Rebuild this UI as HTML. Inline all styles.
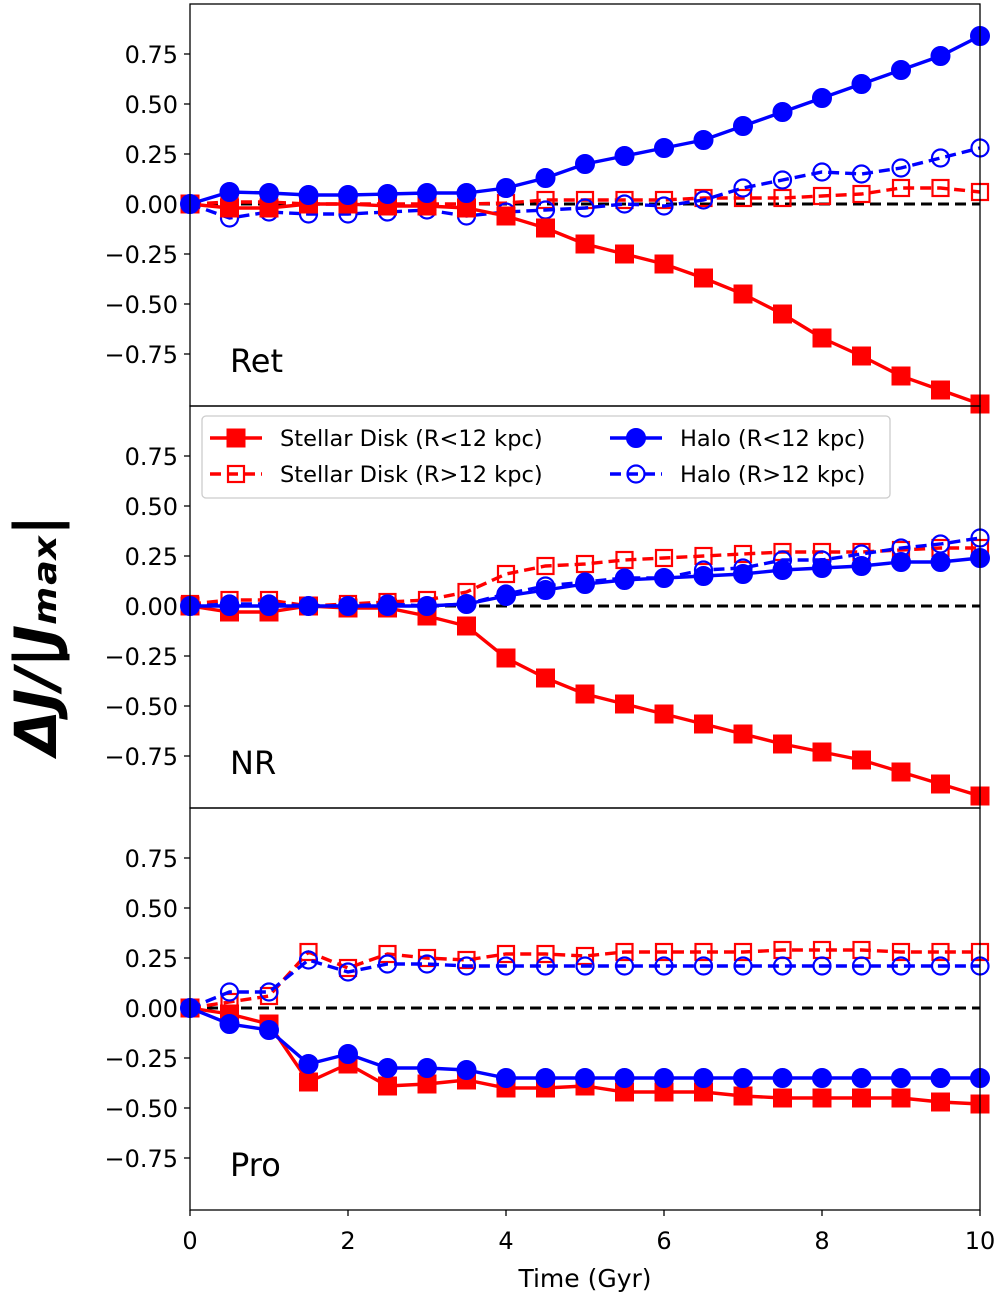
<!DOCTYPE html>
<html><head><meta charset="utf-8"><style>
body{margin:0;background:#fff}
svg text{font-family:"DejaVu Sans","Liberation Sans",sans-serif}
</style></head><body>
<svg id="chart" width="1000" height="1297" xmlns="http://www.w3.org/2000/svg"></svg>
<script>
const times=[0,0.5,1,1.5,2,2.5,3,3.5,4,4.5,5,5.5,6,6.5,7,7.5,8,8.5,9,9.5,10];
const panelNames=["Ret","NR","Pro"];
const retDiskIn=[0,-0.02,-0.02,0,0,-0.01,-0.01,-0.02,-0.06,-0.12,-0.2,-0.25,-0.3,-0.37,-0.45,-0.55,-0.67,-0.76,-0.86,-0.93,-1.0];
const retDiskOut=[0,0.01,0.01,0,0,0,0,0,0.005,0.02,0.02,0.02,0.02,0.03,0.03,0.03,0.04,0.05,0.08,0.08,0.06];
const retHaloIn=[0,0.06,0.055,0.045,0.045,0.05,0.055,0.055,0.08,0.13,0.2,0.24,0.28,0.32,0.39,0.46,0.53,0.6,0.67,0.74,0.84];
const retHaloOut=[0,-0.07,-0.04,-0.05,-0.05,-0.04,-0.03,-0.06,-0.04,-0.03,-0.02,0,-0.01,0.02,0.08,0.12,0.16,0.15,0.18,0.23,0.28];
const nrDiskIn=[0,-0.03,-0.03,0,-0.01,-0.01,-0.05,-0.1,-0.26,-0.36,-0.44,-0.49,-0.54,-0.59,-0.64,-0.69,-0.73,-0.77,-0.83,-0.89,-0.95];
const nrDiskOut=[0.01,0.03,0.03,0,0.01,0.02,0.03,0.07,0.16,0.2,0.21,0.23,0.24,0.25,0.26,0.27,0.27,0.27,0.28,0.29,0.29];
const nrHaloIn=[0,0,0,0,0,0,0,0.01,0.05,0.08,0.11,0.13,0.14,0.15,0.16,0.18,0.19,0.2,0.22,0.22,0.24];
const nrHaloOut=[0,0.01,0.01,0,0,0.01,0,0.01,0.06,0.1,0.12,0.14,0.14,0.18,0.19,0.23,0.23,0.26,0.29,0.31,0.34];
const proDiskIn=[0,-0.03,-0.08,-0.37,-0.28,-0.39,-0.38,-0.36,-0.4,-0.4,-0.39,-0.42,-0.42,-0.42,-0.44,-0.45,-0.45,-0.45,-0.45,-0.47,-0.48];
const proDiskOut=[0,0.03,0.06,0.28,0.2,0.27,0.25,0.24,0.27,0.27,0.26,0.28,0.28,0.28,0.28,0.29,0.29,0.29,0.28,0.28,0.28];
const proHaloIn=[0,-0.08,-0.11,-0.28,-0.23,-0.3,-0.3,-0.31,-0.35,-0.35,-0.35,-0.35,-0.35,-0.35,-0.35,-0.35,-0.35,-0.35,-0.35,-0.35,-0.35];
const proHaloOut=[0,0.08,0.08,0.24,0.18,0.22,0.22,0.21,0.21,0.21,0.21,0.21,0.21,0.21,0.21,0.21,0.21,0.21,0.21,0.21,0.21];
const yTicks=[0.75,0.5,0.25,0,-0.25,-0.5,-0.75];
const yTickLabels=["0.75","0.50","0.25","0.00","\u22120.25","\u22120.50","\u22120.75"];
const xTicks=[0,2,4,6,8,10];

const NS="http://www.w3.org/2000/svg";
const svg=document.getElementById('chart');
const L=190,R=980,tops=[4,406,808],PH=402;
const xs=t=>L+(R-L)*t/10;
const ys=(p,v)=>tops[p]+200-200*v;
function mk(tag,attrs,parent){const e=document.createElementNS(NS,tag);for(const k in attrs)e.setAttribute(k,attrs[k]);(parent||svg).appendChild(e);return e;}
const data=[[retDiskIn,retDiskOut,retHaloIn,retHaloOut],[nrDiskIn,nrDiskOut,nrHaloIn,nrHaloOut],[proDiskIn,proDiskOut,proHaloIn,proHaloOut]];
const styles=[{c:'red',dash:null,m:'sq',fill:true,n:'disk-inner'},{c:'red',dash:'11,6',m:'sq',fill:false,n:'disk-outer'},{c:'blue',dash:null,m:'ci',fill:true,n:'halo-inner'},{c:'blue',dash:'11,6',m:'ci',fill:false,n:'halo-outer'}];
function marker(g,st,x,y){
  let e;
  if(st.m==='sq'){const w=st.fill?18:16;e=mk('rect',{x:x-w/2,y:y-w/2,width:w,height:w,fill:st.fill?st.c:'none',stroke:st.c,'stroke-width':st.fill?1:2.2},g);}
  else{e=mk('circle',{cx:x,cy:y,r:st.fill?9.5:8.5,fill:st.fill?st.c:'none',stroke:st.c,'stroke-width':st.fill?1:2.2},g);}
  return e;
}
for(let p=0;p<3;p++){
  const pg=mk('g',{});
  
  
  yTicks.forEach((v,i)=>{
    const y=ys(p,v);
    mk('line',{x1:L-6,x2:L,y1:y,y2:y,stroke:'#000','stroke-width':1.3},pg);
    const t=mk('text',{x:L-12,y:y+9,'text-anchor':'end','font-size':24},pg);
    
    
    t.textContent=yTickLabels[i];
  });
  xTicks.forEach(v=>{mk('line',{x1:xs(v),x2:xs(v),y1:tops[p]+PH,y2:tops[p]+PH+(p===2?6:0),stroke:'#000','stroke-width':1.3},pg);});
  const z=mk('line',{x1:L,x2:R,y1:ys(p,0),y2:ys(p,0),stroke:'#000','stroke-width':3,'stroke-dasharray':'11,6'},pg);
  
  
  [1,3,0,2].forEach(si=>{
    const st=styles[si],vals=data[p][si];
    const g=mk('g',{},pg);
    
    
    const pts=vals.map((v,i)=>xs(times[i])+','+ys(p,v)).join(' ');
    const a={points:pts,fill:'none',stroke:st.c,'stroke-width':3.4};
    if(st.dash)a['stroke-dasharray']=st.dash;
    mk('polyline',a,g);
    vals.forEach((v,i)=>{const m=marker(g,st,xs(times[i]),ys(p,v));
      
      });
  });
  const lbl=mk('text',{x:230,y:tops[p]+368,'font-size':32,'font-family':'Liberation Sans'},pg);
  
  
  lbl.textContent=panelNames[p];
  const fr=mk('rect',{x:L,y:tops[p],width:R-L,height:PH,fill:'none',stroke:'#000','stroke-width':1.3},pg);
  
  
}
xTicks.forEach(v=>{
  const t=mk('text',{x:xs(v),y:1249,'text-anchor':'middle','font-size':24});
  
  
  t.textContent=String(v);
});
const xt=mk('text',{x:585,y:1287,'text-anchor':'middle','font-size':25});


xt.textContent='Time (Gyr)';
const yt=mk('text',{x:0,y:0,'text-anchor':'middle','font-size':58,'font-style':'italic','font-weight':'bold','font-family':'DejaVu Serif, serif',transform:'translate(56,635) rotate(-90)'});


yt.textContent='\u0394J/|J\u2098\u2090\u2093|';
const lg=mk('g',{});


mk('rect',{x:202,y:416,width:688,height:82,rx:4,fill:'#fff',stroke:'#ccc','stroke-width':1.3},lg);
const legItems=[[0,210,438,'Stellar Disk (R<12 kpc)'],[1,210,474,'Stellar Disk (R>12 kpc)'],[2,610,438,'Halo (R<12 kpc)'],[3,610,474,'Halo (R>12 kpc)']];
legItems.forEach(([si,x,y,txt])=>{
  const st=styles[si];
  const g=mk('g',{},lg);
  
  
  const a={x1:x,x2:x+52,y1:y,y2:y,stroke:st.c,'stroke-width':3.4};
  if(st.dash)a['stroke-dasharray']='11,6';
  mk('line',a,g);
  marker(g,st,x+26,y);
  const t=mk('text',{x:x+70,y:y+8,'font-size':22.5},g);
  t.textContent=txt;
});
</script>
</body></html>
